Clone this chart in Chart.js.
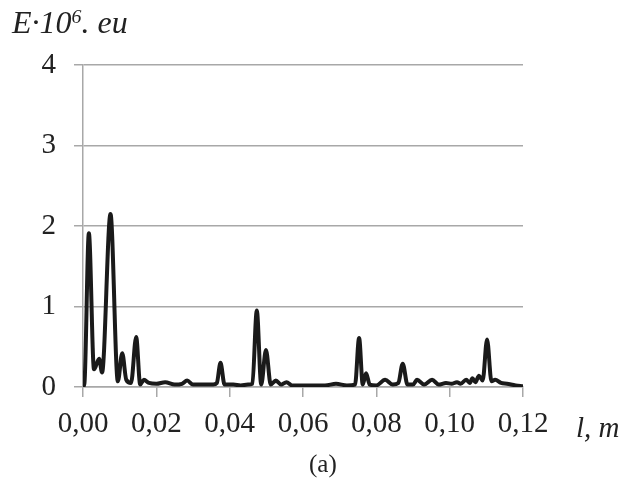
<!DOCTYPE html>
<html>
<head>
<meta charset="utf-8">
<script src="https://cdn.jsdelivr.net/npm/chart.js@4"></script>
<style>
    body { margin: 0; background: #fff; }
    #wrap { position: relative; width: 625px; height: 481px; }
    .lbl { position: absolute; font-family: "Liberation Serif", serif; color: #222; line-height: 1; white-space: nowrap; }
    .it { font-style: italic; }
    sup { font-size: 0.62em; vertical-align: 0.5em; }
</style>
</head>
<body>
<div id="wrap">
    <canvas id="specChart" width="625" height="481"></canvas>
    <div class="lbl it" style="left:12px; top:6px; font-size:32px;">E·10<sup>6</sup>. eu</div>
    <div class="lbl it" style="left:576px; top:413px; font-size:29px;">l, m</div>
    <div class="lbl" style="left:309px; top:451px; font-size:25px;">(a)</div>
</div>
<script>
// distance along the sample, m
const positions = [
    0.0000, 0.0004, 0.0016, 0.0030, 0.0044, 0.0052, 0.0075, 0.0095, 0.0107, 0.0118,
    0.0131, 0.0145, 0.0156, 0.0166, 0.0180, 0.0200, 0.0224, 0.0250, 0.0270, 0.0284,
    0.0300, 0.0330, 0.0355, 0.0365, 0.0375, 0.0386, 0.0410, 0.0430, 0.0450, 0.0462,
    0.0474, 0.0486, 0.0499, 0.0512, 0.0526, 0.0540, 0.0555, 0.0570, 0.0600, 0.0630,
    0.0660, 0.0690, 0.0720, 0.0742, 0.0753, 0.0763, 0.0772, 0.0782, 0.0800, 0.0824,
    0.0845, 0.0860, 0.0872, 0.0885, 0.0900, 0.0911, 0.0930, 0.0952, 0.0970, 0.0990,
    0.1005, 0.1020, 0.1030, 0.1045, 0.1055, 0.1062, 0.1070, 0.1080, 0.1090, 0.1102,
    0.1114, 0.1124, 0.1140, 0.1156, 0.1180, 0.1200
];
// signal energy, E·10^6 eu
const energy = [
    0.00, 0.05, 1.91, 0.22, 0.35, 0.18, 2.15, 0.07, 0.42, 0.09,
    0.05, 0.62, 0.03, 0.09, 0.05, 0.04, 0.06, 0.03, 0.04, 0.08,
    0.03, 0.03, 0.03, 0.05, 0.30, 0.03, 0.03, 0.02, 0.03, 0.04,
    0.95, 0.03, 0.46, 0.03, 0.08, 0.03, 0.06, 0.02, 0.02, 0.02,
    0.02, 0.04, 0.02, 0.03, 0.61, 0.03, 0.17, 0.03, 0.02, 0.09,
    0.03, 0.05, 0.29, 0.03, 0.03, 0.09, 0.03, 0.09, 0.03, 0.05,
    0.04, 0.06, 0.04, 0.09, 0.05, 0.11, 0.06, 0.14, 0.08, 0.59,
    0.07, 0.09, 0.05, 0.04, 0.02, 0.01
];

const xMin = 0, xMax = 0.12, xStep = 0.02;
const yMin = 0, yMax = 4, yStep = 1;

const points = positions.map((x, i) => ({ x: x, y: energy[i] }));
const tickFont = { family: "Liberation Serif", size: 29 };
const gridColor = "#a8a8a8";

const ctx = document.getElementById("specChart");
new Chart(ctx, {
    type: "line",
    data: {
        datasets: [{
            data: points,
            borderColor: "#1a1a1a",
            borderWidth: 4,
            pointRadius: 0,
            fill: false,
            cubicInterpolationMode: "monotone"
        }]
    },
    options: {
        responsive: false,
        animation: false,
        layout: { padding: { top: 65, right: 102, left: 0, bottom: 0 } },
        plugins: { legend: { display: false }, tooltip: { enabled: false } },
        scales: {
            x: {
                type: "linear",
                min: xMin, max: xMax,
                afterFit: (s) => { s.height = 94; },
                ticks: {
                    stepSize: xStep,
                    color: "#222",
                    font: tickFont,
                    padding: 10,
                    maxRotation: 0,
                    callback: (v) => v.toFixed(2).replace(".", ",")
                },
                grid: { drawOnChartArea: false, drawTicks: true, tickLength: 10, color: gridColor, lineWidth: 1.5 },
                border: { color: gridColor, width: 1.5 }
            },
            y: {
                min: yMin, max: yMax,
                afterFit: (s) => { s.width = 83; },
                ticks: {
                    stepSize: yStep,
                    color: "#222",
                    font: tickFont,
                    padding: 18
                },
                grid: { color: gridColor, lineWidth: 1.5, tickLength: 9 },
                border: { color: gridColor, width: 1.5 }
            }
        }
    }
});
</script>
</body>
</html>
